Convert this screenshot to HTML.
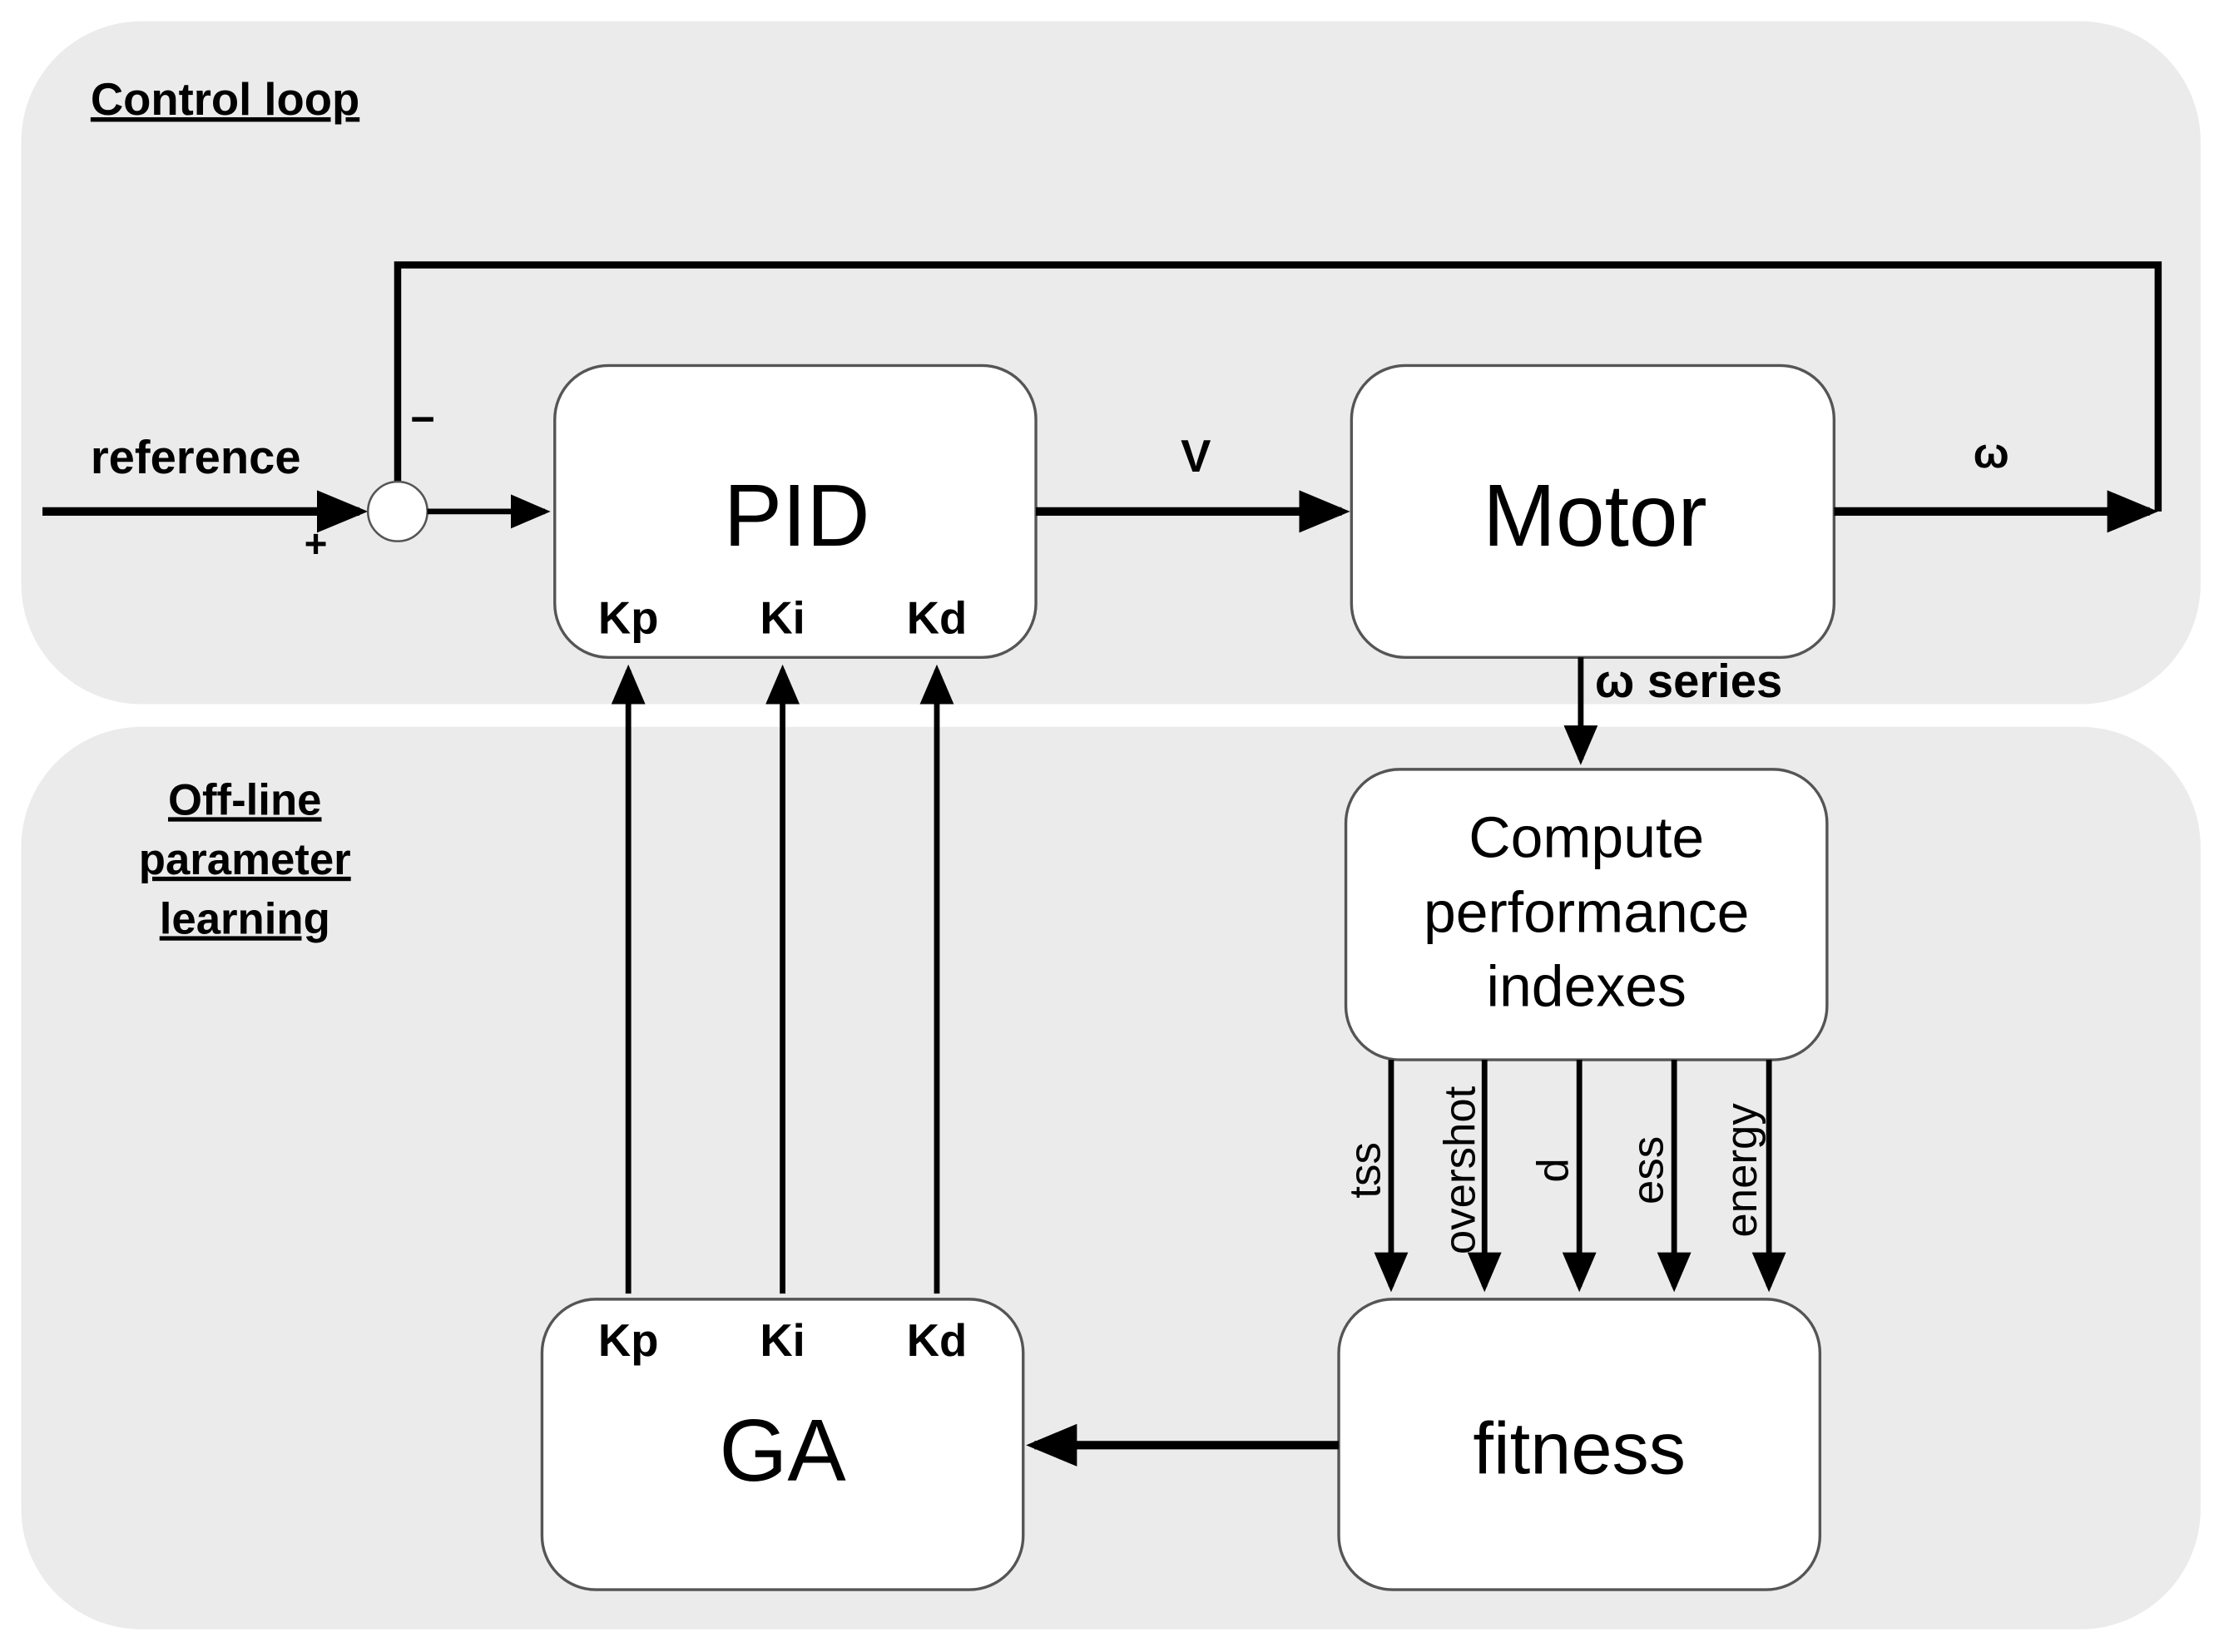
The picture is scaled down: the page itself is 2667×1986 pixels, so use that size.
<!DOCTYPE html>
<html><head><meta charset="utf-8"><style>
html,body{margin:0;padding:0;background:#fff;}
svg{display:block;}
text{font-family:"Liberation Sans",Arial,sans-serif;fill:#000;}
</style></head><body>
<svg width="2667" height="1986" viewBox="0 0 1568 1166" preserveAspectRatio="none" xmlns="http://www.w3.org/2000/svg">
<defs>
<marker id="ah" markerWidth="6" markerHeight="6" refX="5" refY="3" orient="auto" markerUnits="strokeWidth">
<path d="M0,0.5 L6,3 L0,5.5 z" fill="#000"/></marker>
<marker id="ah2" markerWidth="7" markerHeight="7" refX="6" refY="3.5" orient="auto" markerUnits="strokeWidth">
<path d="M0,0.5 L7,3.5 L0,6.5 z" fill="#000"/></marker>
</defs>
<rect x="15" y="15" width="1540" height="482" rx="85" fill="#ebebeb"/>
<rect x="15" y="513" width="1540" height="637" rx="85" fill="#ebebeb"/>

<text x="64" y="81" font-size="32" font-weight="bold" text-decoration="underline">Control loop</text>
<g font-size="31" font-weight="bold" text-anchor="middle" text-decoration="underline">
<text x="173" y="575">Off-line</text>
<text x="173" y="617">parameter</text>
<text x="173" y="659">learning</text>
</g>

<polyline points="281,341 281,187 1525,187 1525,361" fill="none" stroke="#000" stroke-width="5"/>
<line x1="30" y1="361" x2="254" y2="361" stroke="#000" stroke-width="6" marker-end="url(#ah)"/>
<circle cx="281" cy="361" r="21" fill="#fff" stroke="#555" stroke-width="1.5"/>
<line x1="302" y1="361" x2="385" y2="361" stroke="#000" stroke-width="4" marker-end="url(#ah2)"/>
<text x="64" y="334" font-size="33" font-weight="bold">reference</text>
<text x="290" y="306" font-size="30" font-weight="bold">−</text>
<text x="215" y="393" font-size="28" font-weight="bold">+</text>

<rect x="392" y="258" width="340" height="206" rx="38" fill="#fff" stroke="#555" stroke-width="2"/>
<text x="563" y="385" font-size="62" text-anchor="middle">PID</text>
<g font-size="32" font-weight="bold" text-anchor="middle">
<text x="444" y="447">Kp</text><text x="553" y="447">Ki</text><text x="662" y="447">Kd</text>
</g>

<line x1="732" y1="361" x2="948" y2="361" stroke="#000" stroke-width="6" marker-end="url(#ah)"/>
<text x="845" y="333" font-size="32" font-weight="bold" text-anchor="middle">V</text>

<rect x="955" y="258" width="341" height="206" rx="38" fill="#fff" stroke="#555" stroke-width="2"/>
<text x="1127" y="385" font-size="62" text-anchor="middle">Motor</text>
<line x1="1296" y1="361" x2="1519" y2="361" stroke="#000" stroke-width="6" marker-end="url(#ah)"/>
<text x="1407" y="330" font-size="30" font-weight="bold" text-anchor="middle">ω</text>

<line x1="1117" y1="464" x2="1117" y2="536" stroke="#000" stroke-width="4" marker-end="url(#ah2)"/>
<text x="1127" y="492" font-size="33" font-weight="bold">ω series</text>

<rect x="951" y="543" width="340" height="205" rx="38" fill="#fff" stroke="#555" stroke-width="2"/>
<g font-size="41" text-anchor="middle">
<text x="1121" y="605">Compute</text>
<text x="1121" y="658">performance</text>
<text x="1121" y="710">indexes</text>
</g>
<g stroke="#000" stroke-width="4">
<line x1="983" y1="748" x2="983" y2="908" marker-end="url(#ah2)"/>
<line x1="1049" y1="748" x2="1049" y2="908" marker-end="url(#ah2)"/>
<line x1="1116" y1="748" x2="1116" y2="908" marker-end="url(#ah2)"/>
<line x1="1183" y1="748" x2="1183" y2="908" marker-end="url(#ah2)"/>
<line x1="1250" y1="748" x2="1250" y2="908" marker-end="url(#ah2)"/>
</g>
<g font-size="31" text-anchor="middle">
<text transform="translate(975,826) rotate(-90)">tss</text>
<text transform="translate(1042,826) rotate(-90)">overshot</text>
<text transform="translate(1108,826) rotate(-90)">d</text>
<text transform="translate(1175,826) rotate(-90)">ess</text>
<text transform="translate(1241,826) rotate(-90)">energy</text>
</g>

<rect x="946" y="917" width="340" height="205" rx="38" fill="#fff" stroke="#555" stroke-width="2"/>
<text x="1116" y="1040" font-size="52" text-anchor="middle">fitness</text>
<line x1="946" y1="1020" x2="731" y2="1020" stroke="#000" stroke-width="6" marker-end="url(#ah)"/>

<rect x="383" y="917" width="340" height="205" rx="38" fill="#fff" stroke="#555" stroke-width="2"/>
<text x="553" y="1045" font-size="62" text-anchor="middle">GA</text>
<g font-size="32" font-weight="bold" text-anchor="middle">
<text x="444" y="957">Kp</text><text x="553" y="957">Ki</text><text x="662" y="957">Kd</text>
</g>
<g stroke="#000" stroke-width="4">
<line x1="444" y1="913" x2="444" y2="473" marker-end="url(#ah2)"/>
<line x1="553" y1="913" x2="553" y2="473" marker-end="url(#ah2)"/>
<line x1="662" y1="913" x2="662" y2="473" marker-end="url(#ah2)"/>
</g>
</svg>
</body></html>
